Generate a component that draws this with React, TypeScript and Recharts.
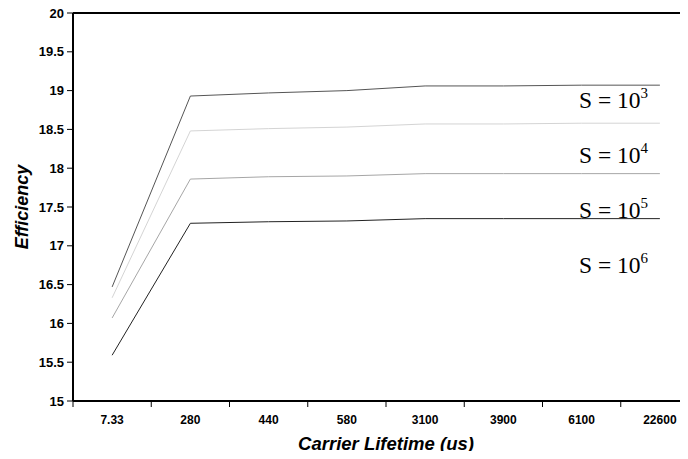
import React from "react";
import { LineChart, Line, XAxis, YAxis, ReferenceLine } from "recharts";

const lifetimes = ["7.33", "280", "440", "580", "3100", "3900", "6100", "22600"];
const s1e3 = [16.47, 18.93, 18.97, 19.0, 19.06, 19.06, 19.07, 19.07];
const s1e4 = [16.33, 18.48, 18.51, 18.53, 18.57, 18.57, 18.58, 18.58];
const s1e5 = [16.07, 17.86, 17.89, 17.9, 17.93, 17.93, 17.93, 17.93];
const s1e6 = [15.59, 17.29, 17.31, 17.32, 17.35, 17.35, 17.35, 17.35];
const yTicks = [15, 15.5, 16, 16.5, 17, 17.5, 18, 18.5, 19, 19.5, 20];
const exponents = ["3", "4", "5", "6"];

const data = lifetimes.map((name, i) => ({
	pos: i + 0.5,
	name,
	a: s1e3[i],
	b: s1e4[i],
	c: s1e5[i],
	d: s1e6[i],
}));

const xTicks: number[] = [];
for (let i = 0; i <= lifetimes.length * 2; i++) xTicks.push(i / 2);

const sans = "'Liberation Sans', Arial, sans-serif";
const serif = "'Liberation Serif', 'Times New Roman', serif";

// eslint-disable-next-line @typescript-eslint/no-explicit-any
const XTick = (props: any) => {
	const { x, y, payload } = props;
	const v = payload.value as number;
	if (Number.isInteger(v)) {
		return <line x1={x} x2={x} y1={y - 8} y2={y - 2} stroke="#000" strokeWidth={1} />;
	}
	return (
		<text x={x} y={y + 15} textAnchor="middle" fontFamily={sans} fontSize={12} fontWeight="bold" fill="#000">
			{lifetimes[Math.floor(v)]}
		</text>
	);
};

export default function App() {
	return (
		<div style={{ position: "relative", width: 688, height: 459, overflow: "hidden", margin: -8, background: "#fff" }}>
			<LineChart width={700} height={459} data={data} margin={{ top: 13, right: 1, left: 0, bottom: 0 }}>
				<XAxis
					dataKey="pos"
					type="number"
					domain={[0, 8]}
					ticks={xTicks}
					interval={0}
					tickLine={false}
					tick={<XTick />}
					axisLine={{ stroke: "#000", strokeWidth: 2 }}
					height={58}
					label={{
						value: "Carrier Lifetime (us)",
						position: "insideBottom",
						offset: 9,
						style: { fontFamily: sans, fontSize: 18.5, fontWeight: "bold", fontStyle: "italic", fill: "#000" },
					}}
				/>
				<YAxis
					type="number"
					domain={[15, 20]}
					ticks={yTicks}
					interval={0}
					width={73}
					tickSize={6}
					tickMargin={3}
					tickLine={{ stroke: "#000" }}
					axisLine={{ stroke: "#000", strokeWidth: 2 }}
					tick={{ fontFamily: sans, fontSize: 13, fontWeight: "bold", fill: "#000" }}
					label={{
						value: "Efficiency",
						angle: -90,
						position: "insideLeft",
						offset: 22,
						style: { textAnchor: "middle", fontFamily: sans, fontSize: 18, fontWeight: "bold", fontStyle: "italic", fill: "#000" },
					}}
				/>
				<ReferenceLine y={20} stroke="#000" strokeWidth={2} />
				<Line dataKey="a" stroke="#555" strokeWidth={1} dot={false} isAnimationActive={false} />
				<Line dataKey="b" stroke="#d4d4d4" strokeWidth={1} dot={false} isAnimationActive={false} />
				<Line dataKey="c" stroke="#a6a6a6" strokeWidth={1} dot={false} isAnimationActive={false} />
				<Line dataKey="d" stroke="#222" strokeWidth={1} dot={false} isAnimationActive={false} />
			</LineChart>
			{exponents.map((e, i) => (
				<div
					key={e}
					style={{
						position: "absolute",
						left: 579,
						top: 86 + i * 55,
						fontFamily: serif,
						fontSize: 23.5,
						lineHeight: "28px",
						color: "#000",
						whiteSpace: "nowrap",
					}}
				>
					S = 10<sup style={{ fontSize: 15, verticalAlign: "top", lineHeight: "15px" }}>{e}</sup>
				</div>
			))}
		</div>
	);
}
